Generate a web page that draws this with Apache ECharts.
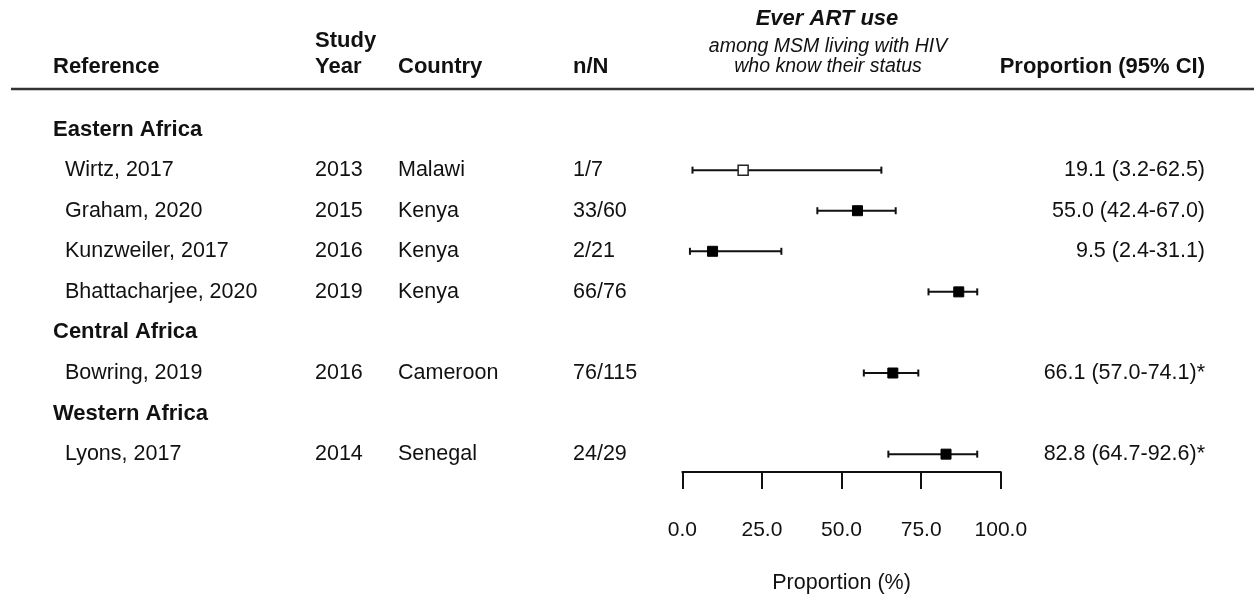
<!DOCTYPE html>
<html>
<head>
<meta charset="utf-8">
<script src="https://cdn.jsdelivr.net/npm/echarts@6/dist/echarts.min.js"></script>
<style>
  html, body { margin: 0; padding: 0; background: #fff; }
  #chart { width: 1254px; height: 594px; }
</style>
</head>
<body>
<div id="chart"></div>
<script>
// data
const regions = ['Eastern Africa', 'Central Africa', 'Western Africa'];
const studyRegion = [0, 0, 0, 0, 1, 2];
const references = ['Wirtz, 2017', 'Graham, 2020', 'Kunzweiler, 2017', 'Bhattacharjee, 2020', 'Bowring, 2019', 'Lyons, 2017'];
const studyYears = ['2013', '2015', '2016', '2019', '2016', '2014'];
const countries = ['Malawi', 'Kenya', 'Kenya', 'Kenya', 'Cameroon', 'Senegal'];
const nN = ['1/7', '33/60', '2/21', '66/76', '76/115', '24/29'];
const estimate = [19.1, 55.0, 9.5, 86.8, 66.1, 82.8];
const lower = [3.2, 42.4, 2.4, 77.3, 57.0, 64.7];
const upper = [62.5, 67.0, 31.1, 92.6, 74.1, 92.6];
const filled = [false, true, true, true, true, true];
const ciText = ['19.1 (3.2-62.5)', '55.0 (42.4-67.0)', '9.5 (2.4-31.1)', '', '66.1 (57.0-74.1)*', '82.8 (64.7-92.6)*'];
const xTicks = [0, 25, 50, 75, 100];

// row index of every region header and every study
const regionRow = [];
const studyRow = [];
let r = 0;
regions.forEach((name, gi) => {
  regionRow.push(r++);
  studyRegion.forEach((g, i) => { if (g === gi) studyRow[i] = r++; });
});

const FONT = '"Liberation Sans", Arial, Helvetica, sans-serif';
const INK = '#111';
const FS = 21.5;
const HFS = 22;

// column x positions in the table grid (pixels)
const COL = { ref: 53, study: 65, year: 315, country: 398, nN: 573, ci: 1205 };

const chart = echarts.init(document.getElementById('chart'));

function textSeries(name, x, rows, texts, opts) {
  return {
    name: name,
    type: 'scatter',
    xAxisIndex: 1,
    yAxisIndex: 1,
    symbolSize: 0,
    silent: true,
    itemStyle: { opacity: 1 },
    data: rows.map((row, i) => [x, row, texts[i]]),
    label: Object.assign({
      show: true,
      position: 'right',
      distance: 0,
      fontFamily: FONT,
      fontSize: FS,
      color: INK,
      formatter: p => p.value[2]
    }, opts || {})
  };
}

const yRange = { min: -1, max: 8.44 };
const bold = 'bold ' + HFS + 'px ' + FONT;

const option = {
  animation: false,
  grid: [
    { left: 682.3, width: 318.5, top: 89, height: 383, outerBoundsMode: 'none', containLabel: false },
    { left: 0, right: 0, top: 89, height: 383, outerBoundsMode: 'none', containLabel: false }
  ],
  xAxis: [
    {
      type: 'value', gridIndex: 0, min: 0, max: 100, interval: 25, position: 'bottom',
      axisLine: { show: true, onZero: false, lineStyle: { color: INK, width: 2 } },
      axisTick: { show: true, length: 17, lineStyle: { color: INK, width: 2 } },
      splitLine: { show: false },
      axisLabel: {
        margin: 48, fontFamily: FONT, fontSize: 21, color: INK,
        formatter: v => xTicks.includes(v) ? v.toFixed(1) : ''
      },
      name: 'Proportion (%)', nameLocation: 'middle', nameGap: 100,
      nameTextStyle: { fontFamily: FONT, fontSize: 21.5, color: INK }
    },
    { type: 'value', gridIndex: 1, min: 0, max: 1254, show: false }
  ],
  yAxis: [
    Object.assign({ type: 'value', gridIndex: 0, inverse: true, show: false }, yRange),
    Object.assign({ type: 'value', gridIndex: 1, inverse: true, show: false }, yRange)
  ],
  graphic: [
    { type: 'line', shape: { x1: 11, y1: 89, x2: 1254, y2: 89 }, style: { stroke: '#333', lineWidth: 2.5 } },
    { type: 'text', x: COL.ref, y: 67, style: { text: 'Reference', font: bold, fill: INK, verticalAlign: 'middle' } },
    { type: 'text', x: COL.year, y: 41, style: { text: 'Study', font: bold, fill: INK, verticalAlign: 'middle' } },
    { type: 'text', x: COL.year, y: 67, style: { text: 'Year', font: bold, fill: INK, verticalAlign: 'middle' } },
    { type: 'text', x: COL.country, y: 67, style: { text: 'Country', font: bold, fill: INK, verticalAlign: 'middle' } },
    { type: 'text', x: COL.nN, y: 67, style: { text: 'n/N', font: bold, fill: INK, verticalAlign: 'middle' } },
    { type: 'text', x: 827, y: 19, style: { text: 'Ever ART use', font: 'italic ' + bold, fill: INK, align: 'center', verticalAlign: 'middle' } },
    { type: 'text', x: 828, y: 47, style: { text: 'among MSM living with HIV', font: 'italic 19.5px ' + FONT, fill: INK, align: 'center', verticalAlign: 'middle' } },
    { type: 'text', x: 828, y: 67, style: { text: 'who know their status', font: 'italic 19.5px ' + FONT, fill: INK, align: 'center', verticalAlign: 'middle' } },
    { type: 'text', x: COL.ci, y: 67, style: { text: 'Proportion (95% CI)', font: bold, fill: INK, align: 'right', verticalAlign: 'middle' } }
  ],
  series: [
    textSeries('regions', COL.ref, regionRow, regions, { fontWeight: 'bold', fontSize: HFS }),
    textSeries('reference', COL.study, studyRow, references),
    textSeries('year', COL.year, studyRow, studyYears),
    textSeries('country', COL.country, studyRow, countries),
    textSeries('nN', COL.nN, studyRow, nN),
    textSeries('ci', COL.ci, studyRow, ciText, { position: 'left' }),
    {
      name: 'forest',
      type: 'custom',
      xAxisIndex: 0,
      yAxisIndex: 0,
      clip: false,
      data: estimate.map((e, i) => [e, lower[i], upper[i], studyRow[i], filled[i] ? 1 : 0]),
      renderItem: function (params, api) {
        const row = api.value(3);
        const c = api.coord([api.value(0), row]);
        const lo = api.coord([api.value(1), row]);
        const hi = api.coord([api.value(2), row]);
        const cap = 3.5;
        const s = 10;
        const line = { stroke: INK, lineWidth: 2 };
        return {
          type: 'group',
          children: [
            { type: 'line', shape: { x1: lo[0], y1: lo[1], x2: hi[0], y2: hi[1] }, style: line },
            { type: 'line', shape: { x1: lo[0], y1: lo[1] - cap, x2: lo[0], y2: lo[1] + cap }, style: line },
            { type: 'line', shape: { x1: hi[0], y1: hi[1] - cap, x2: hi[0], y2: hi[1] + cap }, style: line },
            {
              type: 'rect',
              shape: { x: c[0] - s / 2, y: c[1] - s / 2, width: s, height: s },
              style: api.value(4)
                ? { fill: '#000', stroke: '#000', lineWidth: 1 }
                : { fill: '#fff', stroke: '#222', lineWidth: 1.5 }
            }
          ]
        };
      }
    }
  ]
};

chart.setOption(option);
window.addEventListener('resize', () => chart.resize());
</script>
</body>
</html>
